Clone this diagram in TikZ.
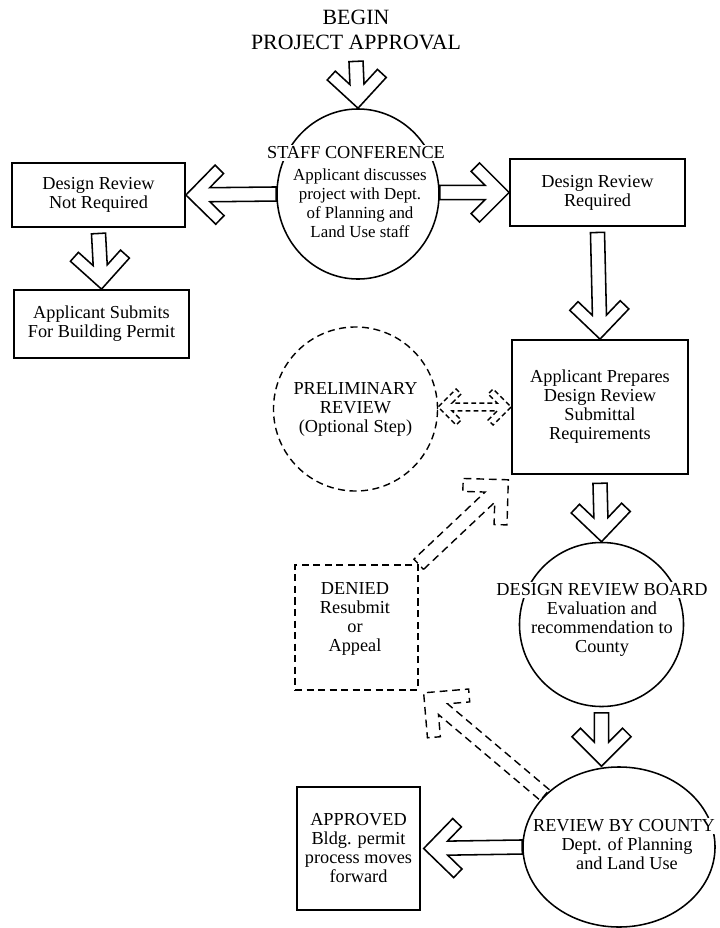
\documentclass[tikz,border=0pt]{standalone}
\usepackage{fontspec}
\setmainfont{Liberation Serif}
\usetikzlibrary{calc,shapes.geometric}

% open block arrow from #2 to its tip at #3 (sizes in \arS, \arT, \arW)
\newcommand\blockarrow[3][]{%
  \draw[#1] ($(#2)!\arS!-90:(#3)$)
    -- ($(#3)!{1.4142*\arT+\arS}!(#2)!\arS!90:(#2)$)
    -- ($(#3)!{\arW+0.7071*\arT}!(#2)!{\arW-0.7071*\arT}!90:(#2)$)
    -- ($(#3)!\arW!(#2)!\arW!90:(#2)$)
    -- (#3)
    -- ($(#3)!\arW!(#2)!\arW!-90:(#2)$)
    -- ($(#3)!{\arW+0.7071*\arT}!(#2)!{\arW-0.7071*\arT}!-90:(#2)$)
    -- ($(#3)!{1.4142*\arT+\arS}!(#2)!\arS!-90:(#2)$)
    -- ($(#2)!\arS!90:(#3)$) -- cycle;}

% same, with a head at both ends
\newcommand\dblarrow[3][]{%
  \draw[#1] (#3)
    -- ($(#3)!\arW!(#2)!\arW!90:(#2)$)
    -- ($(#3)!{\arW+0.7071*\arT}!(#2)!{\arW-0.7071*\arT}!90:(#2)$)
    -- ($(#3)!{1.4142*\arT+\arS}!(#2)!\arS!90:(#2)$)
    -- ($(#2)!{1.4142*\arT+\arS}!(#3)!\arS!-90:(#3)$)
    -- ($(#2)!{\arW+0.7071*\arT}!(#3)!{\arW-0.7071*\arT}!-90:(#3)$)
    -- ($(#2)!\arW!(#3)!\arW!-90:(#3)$)
    -- (#2)
    -- ($(#2)!\arW!(#3)!\arW!90:(#3)$)
    -- ($(#2)!{\arW+0.7071*\arT}!(#3)!{\arW-0.7071*\arT}!90:(#3)$)
    -- ($(#2)!{1.4142*\arT+\arS}!(#3)!\arS!90:(#3)$)
    -- ($(#3)!{1.4142*\arT+\arS}!(#2)!\arS!-90:(#2)$)
    -- ($(#3)!{\arW+0.7071*\arT}!(#2)!{\arW-0.7071*\arT}!-90:(#2)$)
    -- ($(#3)!\arW!(#2)!\arW!-90:(#2)$) -- cycle;}

\begin{document}
\begin{tikzpicture}[x=0.025cm, y=-0.025cm,
  font=\fontsize{13}{13.5}\selectfont,
  box/.style={draw, line width=1.2pt, align=center, inner sep=0pt},
  ring/.style={draw, circle, line width=1.1pt, inner sep=0pt, align=center},
  oval/.style={draw, ellipse, line width=1.1pt, inner sep=0pt},
  txt/.style={align=center, inner sep=0pt},
  head/.style={fill=white, inner sep=1pt},
  dash line/.style={line width=1pt, dash pattern=on 5pt off 3.2pt},
  blk/.style={draw, line width=1.1pt},
  dblk/.style={draw, line width=1pt, dash pattern=on 5.5pt off 3.5pt}]
\useasboundingbox (0,0) rectangle (720,928);

\node[txt, font=\fontsize{15.5}{17.7}\selectfont] (title) at (356,30) {BEGIN\\PROJECT APPROVAL};

\node[oval, minimum width=4.05cm, minimum height=4.25cm] (conf) at (358,194) {};
\node[txt, head] (conf-head) at (356,153) {STAFF CONFERENCE};
\node[txt, font=\fontsize{12}{13.5}\selectfont] (conf-body) at (360,203)
  {Applicant discusses\\project with Dept.\\of Planning and\\Land Use staff};

\node[box, minimum width=4.325cm, minimum height=1.6cm] (notreq) at (98.5,195) {Design Review\\Not Required};
\node[box, minimum width=4.375cm, minimum height=1.7cm] (submit) at (101.5,324) {Applicant Submits\\For Building Permit};
\node[box, minimum width=4.375cm, minimum height=1.675cm] (req) at (597.5,192.5) {Design Review\\Required};
\node[box, minimum width=4.4cm, minimum height=3.35cm] (prep) at (600,407)
  {Applicant Prepares\\Design Review\\Submittal\\Requirements};

\node[ring, dash line, minimum size=4.1cm] (prelim) at (355.5,409) {PRELIMINARY\\REVIEW\\(Optional Step)};

\node[box, dash line, minimum width=3.075cm, minimum height=3.125cm] (denied) at (356.5,627.5) {};
\node[txt] (denied-text) at (355,619) {DENIED\\Resubmit\\or\\Appeal};

\node[ring, minimum size=4.1cm] (board) at (601.5,624.5) {};
\node[txt, head] (board-head) at (602,590) {DESIGN REVIEW BOARD};
\node[txt] (board-body) at (602,629) {Evaluation and\\recommendation to\\County};

\node[oval, minimum width=4.8cm, minimum height=4cm] (county) at (619,847) {};
\node[txt, head] (county-head) at (624,826) {REVIEW BY COUNTY};
\node[txt] (county-body) at (627,854) {Dept. of Planning\\and Land Use};

\node[box, minimum width=3.075cm, minimum height=3.075cm] (approved) at (358.5,848.5)
  {APPROVED\\Bldg. permit\\process moves\\forward};

% solid arrows
\def\arS{5pt}\def\arT{8.5pt}\def\arW{21pt}
\coordinate (c1) at ([yshift=-8pt]title.south);
\coordinate (c2) at ([yshift=-4pt]notreq.south);
\coordinate (c3) at ([yshift=-4pt]req.south);
\coordinate (c4) at ([yshift=-6pt]prep.south);
\coordinate (c5) at ([yshift=-4pt]board.south);
\coordinate (c6) at ([xshift=2pt]approved.east);
\blockarrow[blk]{c1}{conf.north}
\blockarrow[blk]{conf.west}{notreq.east}
\blockarrow[blk]{conf.east |- req.west}{req.west}
\blockarrow[blk]{c2}{submit.north}
\blockarrow[blk]{c3}{prep.north}
\blockarrow[blk]{c4}{board.north}
\blockarrow[blk]{c5}{board.south |- county.north}
\blockarrow[blk]{county.west}{c6}

% dashed arrows
\def\arS{5pt}\def\arT{9.2pt}\def\arW{22.7pt}
\coordinate (c7) at ([shift={(-2pt,-3.5pt)}]prep.south west);
\coordinate (c8) at ([shift={(3.5pt,-1.5pt)}]denied.south east);
\blockarrow[dblk]{denied.north east}{c7}
\blockarrow[dblk]{county.145}{c8}

\def\arS{2.8pt}\def\arT{5pt}\def\arW{12.8pt}
\dblarrow[dblk, dash pattern=on 3.5pt off 2.2pt]{prelim.east |- prep.west}{prep.west}
\end{tikzpicture}
\end{document}
